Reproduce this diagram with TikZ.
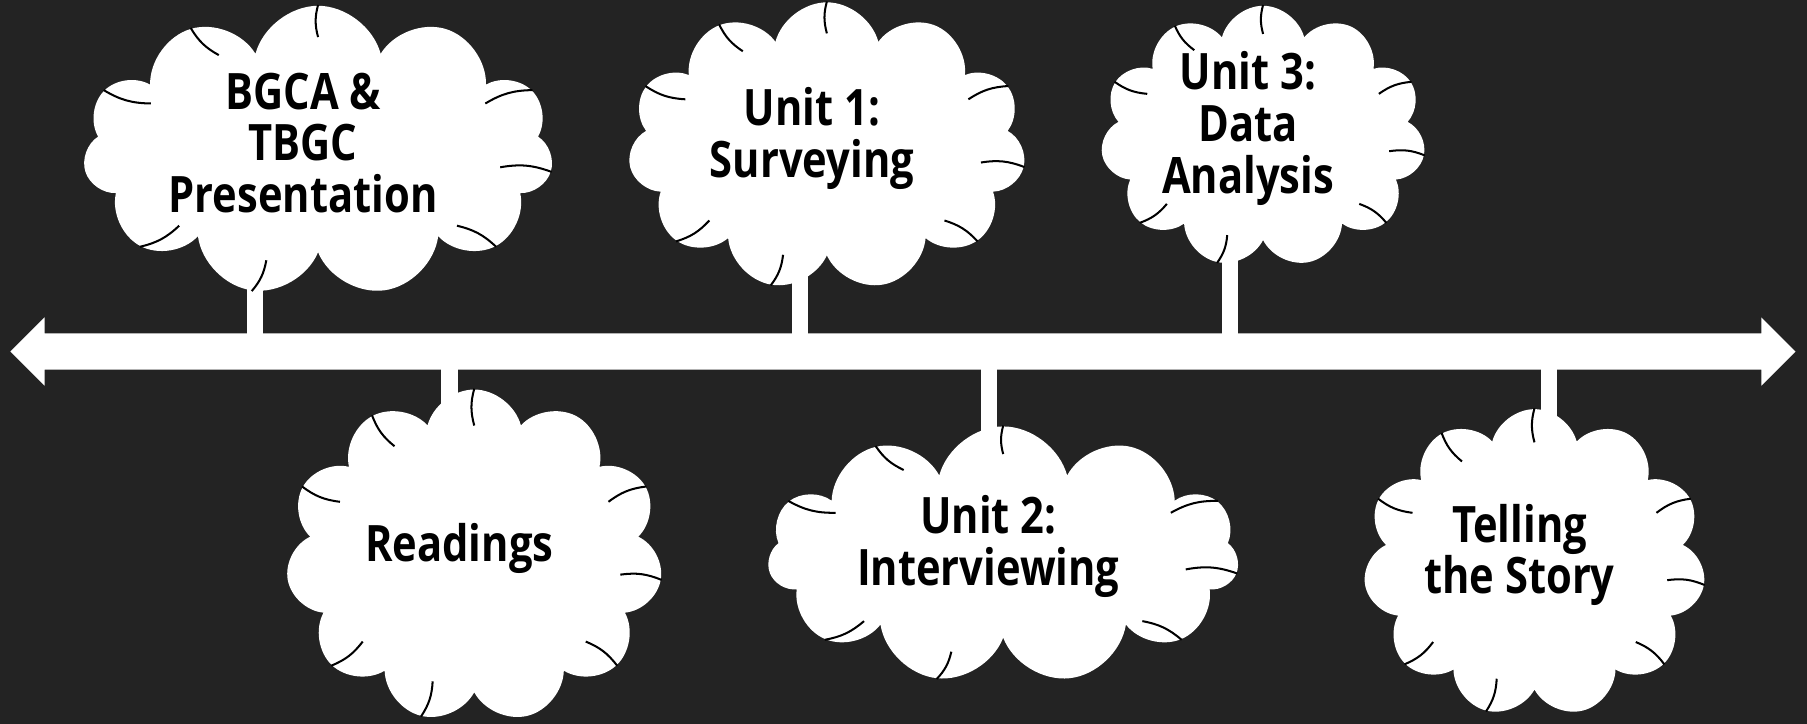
\documentclass[tikz,border=0pt]{standalone}
\usepackage{fontspec}
\setmainfont{Open Sans}[FakeStretch=0.83]
\usetikzlibrary{shapes.symbols,shapes.arrows,backgrounds,calc}
\definecolor{bg}{HTML}{232323}

\begin{document}
\begin{tikzpicture}[
	words/.style={align=center, inner sep=0pt, xshift=-0.13cm, yshift=0.07cm,
		font=\bfseries\fontsize{12.4}{12.8}\selectfont},
	bubble/.style={cloud, cloud puffs=11, cloud ignores aspect, fill=white, inner sep=0pt,
		label={[words]center:{#1}}},
	stem/.style={draw=white, line width=0.14cm},
	puffline/.style={draw=black, line width=0.5pt},
	]
	\useasboundingbox (0,0) rectangle (15.68,-6.28);

	% timeline
	\node[double arrow, fill=white, minimum height=15.49cm, inner sep=0.15cm,
		double arrow head extend=0.14cm] (line) at (7.835,-3.05) {};

	% clouds above
	\node[bubble={BGCA \&\\TBGC\\Presentation}, minimum width=4.08cm, minimum height=2.52cm] (bgca) at (2.76,-1.31) {};
	\node[bubble={Unit 1:\\Surveying}, minimum width=3.45cm, minimum height=2.50cm] (unit1) at (7.175,-1.27) {};
	\node[bubble={Unit 3:\\Data\\Analysis}, minimum width=2.82cm, minimum height=2.27cm] (unit3) at (10.96,-1.185) {};
	% clouds below
	\node[bubble={Readings}, minimum width=3.27cm, minimum height=2.89cm] (read) at (4.115,-4.825) {};
	\node[bubble={Unit 2:\\Interviewing}, minimum width=4.09cm, minimum height=2.23cm] (unit2) at (8.705,-4.815) {};
	\node[bubble={Telling\\the Story}, minimum width=2.97cm, minimum height=2.67cm] (story) at (13.315,-4.885) {};

	\foreach \c in {bgca,unit1,unit3,read,unit2,story}
		\foreach \p in {1,2,3,5,6,8,9,10}
			\draw[puffline] (\c.puff \p) to[bend right=15] ($(\c.puff \p)!0.22!(\c.center)$);

	% stems
	\coordinate (t1) at (2.21,-3.05);
	\coordinate (t2) at (3.90,-3.05);
	\coordinate (t3) at (6.94,-3.05);
	\coordinate (t4) at (8.58,-3.05);
	\coordinate (t5) at (10.67,-3.05);
	\coordinate (t6) at (13.44,-3.05);
	\begin{scope}[on background layer]
		\fill[bg] (0,0) rectangle (15.68,-6.28);
		\draw[stem] (t1) -- (t1 |- bgca.center);
		\draw[stem] (t2) -- (t2 |- read.center);
		\draw[stem] (t3) -- (t3 |- unit1.center);
		\draw[stem] (t4) -- (t4 |- unit2.center);
		\draw[stem] (t5) -- (t5 |- unit3.center);
		\draw[stem] (t6) -- (t6 |- story.center);
	\end{scope}
\end{tikzpicture}
\end{document}
